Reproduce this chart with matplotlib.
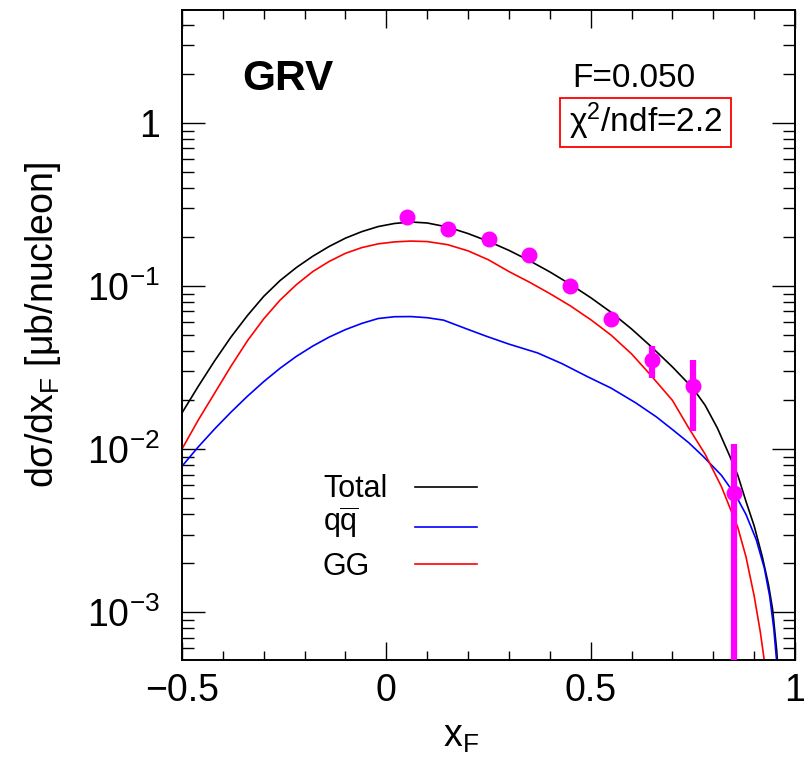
import numpy as np
import matplotlib
matplotlib.use("Agg")
import matplotlib.pyplot as plt
from matplotlib.ticker import FixedLocator, FixedFormatter, LogLocator, NullFormatter, MultipleLocator
from matplotlib.patches import Rectangle

# Data (GRV, F=0.050)
xf_data = [0.05, 0.15, 0.25, 0.35, 0.45, 0.55, 0.65, 0.75, 0.85]
y_data = [0.265, 0.224, 0.194, 0.156, 0.100, 0.0628, 0.0355, 0.0244, 0.0054]
y_data_high = [0.278, 0.235, 0.203, 0.163, 0.105, 0.066, 0.0428, 0.0355, 0.0108]
y_data_low = [0.252, 0.213, 0.185, 0.149, 0.095, 0.0597, 0.0274, 0.0129, 1e-6]

# curves, stored as log10 of dsigma/dxF
xf_total = [-0.50, -0.46, -0.42, -0.38, -0.34, -0.30, -0.26, -0.22, -0.18, -0.14, -0.10, -0.06,
            -0.02, 0.02, 0.06, 0.10, 0.15, 0.20, 0.25, 0.30, 0.35, 0.40, 0.45, 0.50, 0.55,
            0.60, 0.65, 0.70, 0.75, 0.78, 0.81, 0.84, 0.86, 0.88, 0.90, 0.92, 0.935, 0.945,
            0.955, 0.962, 0.968]
log_total = [-1.777, -1.613, -1.457, -1.311, -1.180, -1.062, -0.965, -0.885, -0.816, -0.756,
             -0.705, -0.665, -0.634, -0.615, -0.606, -0.612, -0.637, -0.677, -0.725, -0.780,
             -0.843, -0.912, -0.988, -1.070, -1.160, -1.262, -1.375, -1.495, -1.625, -1.730,
             -1.870, -2.040, -2.160, -2.320, -2.470, -2.660, -2.830, -2.980, -3.230, -3.480, -3.700]

xf_qq = [-0.50, -0.46, -0.42, -0.38, -0.34, -0.30, -0.26, -0.22, -0.18, -0.14, -0.10, -0.06,
         -0.02, 0.02, 0.06, 0.10, 0.14, 0.20, 0.245, 0.30, 0.37, 0.43, 0.49, 0.55, 0.61, 0.66,
         0.70, 0.74, 0.775, 0.82, 0.856, 0.88, 0.905, 0.925, 0.938, 0.948, 0.955, 0.962]
log_qq = [-2.104, -1.985, -1.875, -1.772, -1.675, -1.585, -1.503, -1.430, -1.367, -1.312,
          -1.266, -1.228, -1.198, -1.187, -1.186, -1.193, -1.208, -1.265, -1.307, -1.355,
          -1.409, -1.475, -1.552, -1.625, -1.715, -1.800, -1.879, -1.960, -2.043, -2.160,
          -2.288, -2.400, -2.554, -2.730, -2.902, -3.100, -3.300, -3.600]

xf_gg = [-0.50, -0.46, -0.42, -0.38, -0.34, -0.30, -0.26, -0.22, -0.18, -0.14, -0.10, -0.06,
         -0.02, 0.02, 0.06, 0.10, 0.15, 0.20, 0.25, 0.30, 0.35, 0.40, 0.45, 0.50, 0.55, 0.60,
         0.645, 0.70, 0.74, 0.78, 0.82, 0.86, 0.88, 0.90, 0.915, 0.925, 0.935]
log_gg = [-1.998, -1.820, -1.655, -1.490, -1.335, -1.200, -1.085, -0.990, -0.910, -0.848,
          -0.798, -0.763, -0.740, -0.728, -0.723, -0.726, -0.745, -0.783, -0.838, -0.910,
          -0.975, -1.045, -1.120, -1.205, -1.300, -1.415, -1.540, -1.700, -1.870, -2.030,
          -2.230, -2.480, -2.660, -2.900, -3.120, -3.300, -3.600]

x_ticks = [-0.5, 0, 0.5, 1]
x_tick_labels = ["\u22120.5", "0", "0.5", "1"]
y_ticks = [1e-3, 1e-2, 1e-1, 1]
y_tick_labels = ["$10^{-3}$", "$10^{-2}$", "$10^{-1}$", "1"]

legend_labels = ["Total", r"q$\overline{\mathrm{q}}$", "GG"]
legend_colors = ["black", "blue", "red"]

FONT = "Liberation Sans"
plt.rcParams["font.family"] = FONT
plt.rcParams["mathtext.fontset"] = "custom"
plt.rcParams["mathtext.rm"] = FONT
plt.rcParams["mathtext.it"] = FONT + ":italic"
plt.rcParams["mathtext.bf"] = FONT + ":bold"


def main():
    fig = plt.figure(figsize=(8.06, 7.6), dpi=100)
    ax = fig.add_axes([0.2258, 0.1316, 0.7606, 0.8553])

    ax.plot(xf_total, 10 ** np.array(log_total), color="black", lw=1.2, zorder=2)
    ax.plot(xf_qq, 10 ** np.array(log_qq), color="blue", lw=1.2, zorder=2)
    ax.plot(xf_gg, 10 ** np.array(log_gg), color="red", lw=1.2, zorder=2)

    y = np.array(y_data)
    yerr = [y - np.array(y_data_low), np.array(y_data_high) - y]
    ax.errorbar(xf_data, y, yerr=yerr, fmt="o", color="#ff00ff", ms=11.5,
                mew=0, elinewidth=4.5, capsize=0, zorder=3)

    ax.set_yscale("log")
    ax.set_xlim(-0.5, 1.0)
    ax.set_ylim(5.1e-4, 4.95)

    ax.xaxis.set_major_locator(FixedLocator(x_ticks))
    ax.xaxis.set_major_formatter(FixedFormatter(x_tick_labels))
    ax.xaxis.set_minor_locator(MultipleLocator(0.1))
    ax.yaxis.set_major_locator(FixedLocator(y_ticks))
    ax.yaxis.set_major_formatter(FixedFormatter(y_tick_labels))
    ax.yaxis.set_minor_locator(LogLocator(base=10, subs=np.arange(2, 10), numticks=20))
    ax.yaxis.set_minor_formatter(NullFormatter())

    ax.tick_params(which="both", direction="in", top=True, right=True, width=1.0)
    ax.tick_params(axis="x", which="major", length=13, pad=9.5, labelsize=27)
    ax.tick_params(axis="x", which="minor", length=6.8)
    ax.tick_params(axis="y", which="major", length=16.5, pad=16, labelsize=27)
    ax.tick_params(axis="y", which="minor", length=8.6)
    for sp in ax.spines.values():
        sp.set_linewidth(1.4)

    ax.set_xlabel(r"x$_\mathrm{F}$", fontsize=27)
    ax.xaxis.set_label_coords(0.455, -0.133)
    ax.xaxis.label.set_verticalalignment("baseline")
    ax.set_ylabel("d\u03c3/dx$_\\mathrm{F}$ [\u03bcb/nucleon]", fontsize=27)
    ax.yaxis.set_label_coords(-0.2104, 0.515)
    ax.yaxis.label.set_verticalalignment("baseline")

    ax.text(0.099, 0.877, "GRV", transform=ax.transAxes, fontsize=30.5,
            fontweight="bold", ha="left", va="baseline")
    ax.text(0.636, 0.882, "F=0.050", transform=ax.transAxes, fontsize=24,
            ha="left", va="baseline")
    ax.text(0.632, 0.812, "\u03c7$^{2}$/ndf=2.2", transform=ax.transAxes, fontsize=24,
            ha="left", va="baseline")
    ax.add_patch(Rectangle((0.616, 0.789), 0.2796, 0.0756, transform=ax.transAxes,
                           fill=False, edgecolor="red", lw=1.3, zorder=4))

    # legend: text on the left, line sample on the right
    text_base = [0.2508, 0.1969, 0.1308]
    line_y = [0.2657, 0.2042, 0.1482]
    for lab, col, tb, ly in zip(legend_labels, legend_colors, text_base, line_y):
        ax.text(0.230, tb, lab, transform=ax.transAxes, fontsize=22,
                ha="left", va="baseline")
        ax.plot([0.380, 0.481], [ly, ly], transform=ax.transAxes, color=col, lw=1.2)

    fig.savefig("out.png", dpi=100)


if __name__ == "__main__":
    main()
